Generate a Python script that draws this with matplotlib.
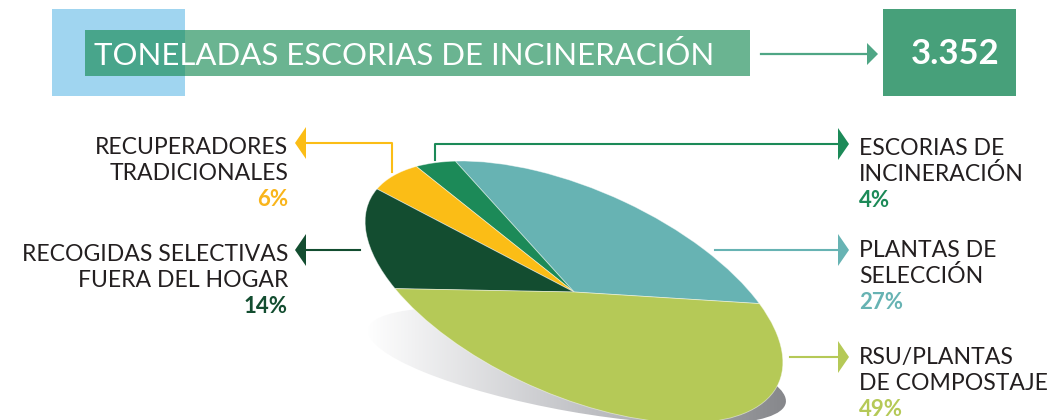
import numpy as np
import matplotlib
matplotlib.use("Agg")
from matplotlib import pyplot as plt
from matplotlib.patches import Rectangle, Polygon, Ellipse
from matplotlib.transforms import Affine2D
from matplotlib.colors import LinearSegmentedColormap

plt.rcParams['font.family'] = ['Lato', 'DejaVu Sans']

# data
title = "TONELADAS ESCORIAS DE INCINERACIÓN"
total = "3.352"
categories = ["PLANTAS DE\nSELECCIÓN",
              "ESCORIAS DE\nINCINERACIÓN",
              "RECUPERADORES\nTRADICIONALES",
              "RECOGIDAS SELECTIVAS\nFUERA DEL HOGAR",
              "RSU/PLANTAS\nDE COMPOSTAJE"]
shares = [27, 4, 6, 14, 49]
colors = ["#67b3b3", "#1c8a58", "#fbbd16", "#134d30", "#b5c957"]

TEXT = "#231f20"

fig = plt.figure(figsize=(10.5, 4.2), dpi=100)
ax = fig.add_axes([0, 0, 1, 1])

# shadow under the pie (gradient clipped to an ellipse)
shadow = Ellipse((577, 366), 424, 92, angle=10, facecolor='none', edgecolor='none')
ax.add_patch(shadow)
grad = np.linspace(0, 1, 256)[None, :]
shade_cmap = LinearSegmentedColormap.from_list("shade", ["#ffffff", "#c2c3c7", "#85868a"])
img = ax.imshow(grad, cmap=shade_cmap, extent=[365, 792, 430, 300], aspect='auto', zorder=1)
img.set_clip_path(shadow)

# tilted pie: draw a unit pie then squash and rotate it
wedges, _ = ax.pie(shares, colors=colors, startangle=39, counterclock=True,
                   wedgeprops=dict(linewidth=0.6, edgecolor=(1, 1, 1, 0.5)))
tilt = Affine2D().scale(224, -103).rotate_deg(24).translate(574, 292)
for w in wedges:
    w.set_transform(tilt + ax.transData)
    w.set_zorder(2)

# title banner
ax.add_patch(Rectangle((52, 9), 133, 87, facecolor="#a0d5f0", edgecolor='none', zorder=1))
ax.add_patch(Rectangle((85, 30), 665, 46, facecolor=(22/255, 138/255, 83/255), alpha=0.64,
                       edgecolor='none', zorder=2))
ax.text(94, 65, title, color='white', fontsize=22.4, va='baseline', ha='left', zorder=3)
ax.plot([761, 868], [54, 54], color="#4fa685", lw=1.6, zorder=2)
ax.add_patch(Polygon([[867, 43], [878, 54], [867, 65]], closed=True, facecolor="#4fa685",
                     edgecolor='none', zorder=2))
ax.add_patch(Rectangle((883, 9), 133, 87, facecolor="#47a07a", edgecolor='none', zorder=1))
ax.text(955, 64, total, color='white', fontsize=25, fontweight='bold', va='baseline',
        ha='center', zorder=3)


def head(x_base, y, direction, color):
    # narrow tall arrow head
    tip = x_base + 11 * direction
    ax.add_patch(Polygon([[x_base, y - 16], [tip, y], [x_base, y + 16]], closed=True,
                         facecolor=color, edgecolor='none', zorder=3))


def label(x, y0, text, pct, color, ha):
    lines = text.split("\n")
    for i, line in enumerate(lines):
        ax.text(x, y0 + 26 * i, line, color=TEXT, fontsize=16.6, ha=ha, va='baseline')
    ax.text(x, y0 + 26 * len(lines), "%d%%" % pct, color=color, fontsize=16,
            fontweight='bold', ha=ha, va='baseline')


# right side labels
label(859, 155, categories[1], shares[1], colors[1], 'left')
ax.plot([435, 435, 839], [160, 144, 144], color=colors[1], lw=1.5, zorder=3)
head(838, 144, 1, colors[1])

label(859, 257, categories[0], shares[0], colors[0], 'left')
ax.plot([715, 839], [250, 250], color=colors[0], lw=1.5, zorder=3)
head(838, 250, 1, colors[0])

label(859, 364, categories[4], shares[4], colors[4], 'left')
ax.plot([790, 839], [357, 357], color=colors[4], lw=1.5, zorder=3)
head(838, 357, 1, colors[4])

# left side labels
label(288, 154, categories[2], shares[2], "#f9b51c", 'right')
ax.plot([392, 392, 305], [172, 143, 143], color=colors[2], lw=1.5, zorder=3)
head(306, 143, -1, colors[2])

label(288, 261, categories[3], shares[3], colors[3], 'right')
ax.plot([360, 305], [250, 250], color=colors[3], lw=1.5, zorder=3)
head(306, 250, -1, colors[3])

ax.set_xlim(0, 1050)
ax.set_ylim(420, 0)
ax.set_aspect('auto')
ax.axis('off')

fig.savefig("out.png", dpi=100, facecolor='white')
